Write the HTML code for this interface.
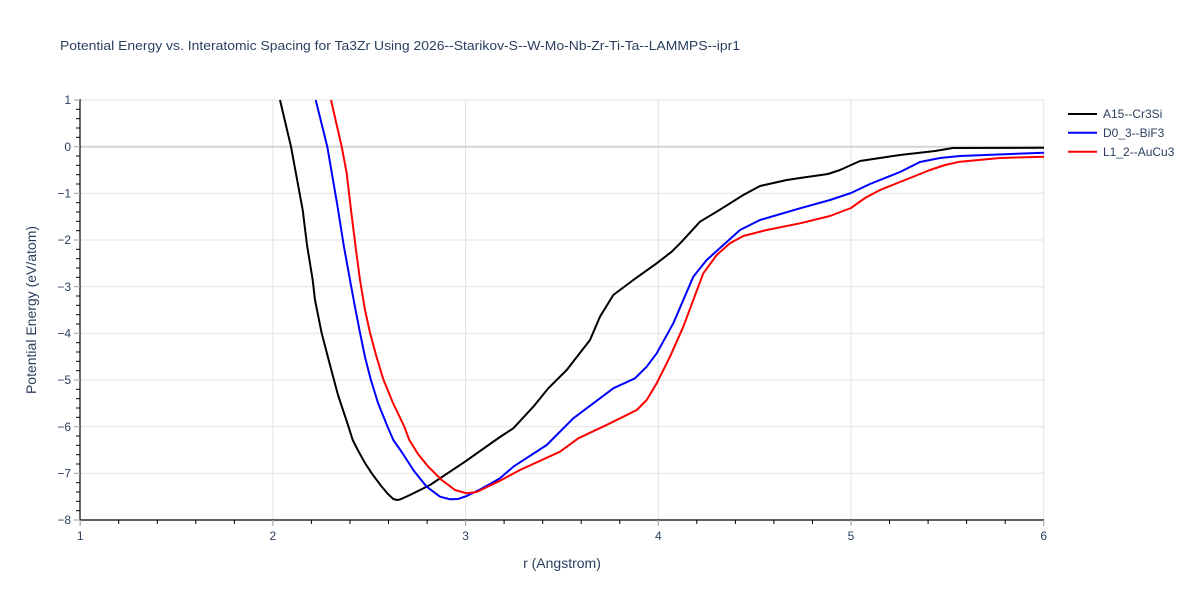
<!DOCTYPE html>
<html><head><meta charset="utf-8"><style>
html,body{margin:0;padding:0;background:#fff;}
svg{display:block;font-family:"Liberation Sans",Arial,sans-serif;}
</style></head><body>
<svg width="1200" height="600" viewBox="0 0 1200 600" xmlns="http://www.w3.org/2000/svg">
<rect width="1200" height="600" fill="#fff"/>
<text x="60" y="50" font-size="13" fill="#2a3f5f" textLength="680" lengthAdjust="spacingAndGlyphs">Potential Energy vs. Interatomic Spacing for Ta3Zr Using 2026--Starikov-S--W-Mo-Nb-Zr-Ti-Ta--LAMMPS--ipr1</text>
<!-- grid -->
<g stroke="#e2e2e2" stroke-width="1">
<line x1="272.9" y1="100" x2="272.9" y2="520"/>
<line x1="465.6" y1="100" x2="465.6" y2="520"/>
<line x1="658.3" y1="100" x2="658.3" y2="520"/>
<line x1="851" y1="100" x2="851" y2="520"/>
<line x1="1043.7" y1="100" x2="1043.7" y2="520"/>
<line x1="80" y1="100" x2="1044" y2="100"/>
<line x1="80" y1="193.3" x2="1044" y2="193.3"/>
<line x1="80" y1="240" x2="1044" y2="240"/>
<line x1="80" y1="286.7" x2="1044" y2="286.7"/>
<line x1="80" y1="333.3" x2="1044" y2="333.3"/>
<line x1="80" y1="380" x2="1044" y2="380"/>
<line x1="80" y1="426.7" x2="1044" y2="426.7"/>
<line x1="80" y1="473.3" x2="1044" y2="473.3"/>
</g>
<line x1="80" y1="146.7" x2="1044" y2="146.7" stroke="#d4d4d4" stroke-width="2"/>
<!-- curves -->
<g fill="none" stroke-width="2" stroke-linejoin="round">
<polyline stroke="#000" points="280,100 291,146.7 302.7,210 307,245 312.7,280 315,300 321.7,333.3 330,365 338,395 348.3,426 352.7,440 358.3,451 365,463 371.7,473.3 381.7,486.7 388,494 393.3,499 397,500 400,499.5 410,495 430,485 465,461.7 490,444 500,437 513.3,428.3 533.3,406.7 548.3,388.3 566.7,370 590,340 600,316.7 613.3,295 633.3,280 656.7,263.3 671.7,251.7 681.7,241.7 700,221.7 716.7,211.7 743.3,195 760,186 786.7,180 800,178 828,174 840,170 860,161 880,158 900,155 935,151 953,148 1044,147.8"/>
<polyline stroke="#0000ff" points="315.7,100 327.3,146.7 337.3,205 344,247 350,280 355,307 360,332.7 365,357 370.7,379.3 378,403 387.3,426 393.3,440 401.7,452 414,471 426.7,486.7 440,496.7 450,499.3 458,499 466.7,496 480,489.5 490,484 500,478.3 513.3,466.7 546.7,445 573.3,418.3 613.3,388.3 635,378.3 646.7,366.7 656.7,353.3 673.3,323.3 693.3,276.7 706.7,260 740,230 760,220 800,208.3 830,200 851,193 870,184 900,172 920,162 940,158 960,156 1044,152.7"/>
<polyline stroke="#ff0000" points="331,100 341.7,146.7 346.7,173.3 351,210 356,250 360,280 365,310 370,332.7 376,355 383.3,379.3 393,403 404,426 409.3,440 418,454 428.3,466.7 441.7,480 455,490 466.7,493.3 476.7,492 500,480.7 520,470 560,451.7 578.3,438.3 610,423.3 636.7,410 646.7,400 656.7,383.3 670,356.7 683.3,326.7 703.3,273.3 716.7,255 730,243.3 743.3,236 766.7,230 800,223.3 830,216 851,208 865,198 880,190 900,182 930,170 945,165 960,161.7 1000,158 1044,156.7"/>
</g>
<!-- axes -->
<line x1="80" y1="99" x2="80" y2="520.5" stroke="#000" stroke-width="1.2"/>
<line x1="79.5" y1="520" x2="1044" y2="520" stroke="#000" stroke-width="1.2"/>
<!-- major ticks -->
<g stroke="#aaa" stroke-width="1.2">
<line x1="80.2" y1="520" x2="80.2" y2="526"/>
<line x1="272.9" y1="520" x2="272.9" y2="526"/>
<line x1="465.6" y1="520" x2="465.6" y2="526"/>
<line x1="658.3" y1="520" x2="658.3" y2="526"/>
<line x1="851" y1="520" x2="851" y2="526"/>
<line x1="1043.7" y1="520" x2="1043.7" y2="526"/>
<line x1="74" y1="100" x2="80" y2="100"/>
<line x1="74" y1="146.7" x2="80" y2="146.7"/>
<line x1="74" y1="193.3" x2="80" y2="193.3"/>
<line x1="74" y1="240" x2="80" y2="240"/>
<line x1="74" y1="286.7" x2="80" y2="286.7"/>
<line x1="74" y1="333.3" x2="80" y2="333.3"/>
<line x1="74" y1="380" x2="80" y2="380"/>
<line x1="74" y1="426.7" x2="80" y2="426.7"/>
<line x1="74" y1="473.3" x2="80" y2="473.3"/>
<line x1="74" y1="520" x2="80" y2="520"/>
</g>
<!-- minor ticks -->
<g stroke="#000" stroke-width="1">
<line x1="118.7" y1="520" x2="118.7" y2="524"/><line x1="157.3" y1="520" x2="157.3" y2="524"/><line x1="195.8" y1="520" x2="195.8" y2="524"/><line x1="234.4" y1="520" x2="234.4" y2="524"/>
<line x1="311.4" y1="520" x2="311.4" y2="524"/><line x1="350" y1="520" x2="350" y2="524"/><line x1="388.5" y1="520" x2="388.5" y2="524"/><line x1="427.1" y1="520" x2="427.1" y2="524"/>
<line x1="504.1" y1="520" x2="504.1" y2="524"/><line x1="542.7" y1="520" x2="542.7" y2="524"/><line x1="581.2" y1="520" x2="581.2" y2="524"/><line x1="619.8" y1="520" x2="619.8" y2="524"/>
<line x1="696.8" y1="520" x2="696.8" y2="524"/><line x1="735.4" y1="520" x2="735.4" y2="524"/><line x1="773.9" y1="520" x2="773.9" y2="524"/><line x1="812.5" y1="520" x2="812.5" y2="524"/>
<line x1="889.5" y1="520" x2="889.5" y2="524"/><line x1="928.1" y1="520" x2="928.1" y2="524"/><line x1="966.6" y1="520" x2="966.6" y2="524"/><line x1="1005.2" y1="520" x2="1005.2" y2="524"/>
</g>
<g stroke="#000" stroke-width="1">
<line x1="76" y1="109.3" x2="80" y2="109.3"/><line x1="76" y1="118.7" x2="80" y2="118.7"/><line x1="76" y1="128" x2="80" y2="128"/><line x1="76" y1="137.3" x2="80" y2="137.3"/>
<line x1="76" y1="156" x2="80" y2="156"/><line x1="76" y1="165.3" x2="80" y2="165.3"/><line x1="76" y1="174.7" x2="80" y2="174.7"/><line x1="76" y1="184" x2="80" y2="184"/>
<line x1="76" y1="202.7" x2="80" y2="202.7"/><line x1="76" y1="212" x2="80" y2="212"/><line x1="76" y1="221.3" x2="80" y2="221.3"/><line x1="76" y1="230.7" x2="80" y2="230.7"/>
<line x1="76" y1="249.3" x2="80" y2="249.3"/><line x1="76" y1="258.7" x2="80" y2="258.7"/><line x1="76" y1="268" x2="80" y2="268"/><line x1="76" y1="277.3" x2="80" y2="277.3"/>
<line x1="76" y1="296" x2="80" y2="296"/><line x1="76" y1="305.3" x2="80" y2="305.3"/><line x1="76" y1="314.7" x2="80" y2="314.7"/><line x1="76" y1="324" x2="80" y2="324"/>
<line x1="76" y1="342.7" x2="80" y2="342.7"/><line x1="76" y1="352" x2="80" y2="352"/><line x1="76" y1="361.3" x2="80" y2="361.3"/><line x1="76" y1="370.7" x2="80" y2="370.7"/>
<line x1="76" y1="389.3" x2="80" y2="389.3"/><line x1="76" y1="398.7" x2="80" y2="398.7"/><line x1="76" y1="408" x2="80" y2="408"/><line x1="76" y1="417.3" x2="80" y2="417.3"/>
<line x1="76" y1="436" x2="80" y2="436"/><line x1="76" y1="445.3" x2="80" y2="445.3"/><line x1="76" y1="454.7" x2="80" y2="454.7"/><line x1="76" y1="464" x2="80" y2="464"/>
<line x1="76" y1="482.7" x2="80" y2="482.7"/><line x1="76" y1="492" x2="80" y2="492"/><line x1="76" y1="501.3" x2="80" y2="501.3"/><line x1="76" y1="510.7" x2="80" y2="510.7"/>
</g>
<!-- tick labels -->
<g font-size="12" fill="#2a3f5f" text-anchor="middle">
<text x="80.2" y="540">1</text>
<text x="272.9" y="540">2</text>
<text x="465.6" y="540">3</text>
<text x="658.3" y="540">4</text>
<text x="851" y="540">5</text>
<text x="1043.7" y="540">6</text>
</g>
<g font-size="12" fill="#2a3f5f" text-anchor="end">
<text x="71" y="104.2">1</text>
<text x="71" y="150.9">0</text>
<text x="71" y="197.5">−1</text>
<text x="71" y="244.2">−2</text>
<text x="71" y="290.9">−3</text>
<text x="71" y="337.5">−4</text>
<text x="71" y="384.2">−5</text>
<text x="71" y="430.9">−6</text>
<text x="71" y="477.5">−7</text>
<text x="71" y="524.2">−8</text>
</g>
<text x="562" y="568" font-size="14" fill="#2a3f5f" text-anchor="middle">r (Angstrom)</text>
<text transform="translate(36,310) rotate(-90)" font-size="14" fill="#2a3f5f" text-anchor="middle">Potential Energy (eV/atom)</text>
<!-- legend -->
<g stroke-width="2">
<line x1="1068" y1="114" x2="1097" y2="114" stroke="#000"/>
<line x1="1068" y1="132.7" x2="1097" y2="132.7" stroke="#0000ff"/>
<line x1="1068" y1="151.7" x2="1097" y2="151.7" stroke="#ff0000"/>
</g>
<g font-size="12" fill="#2a3f5f">
<text x="1103" y="118.2">A15--Cr3Si</text>
<text x="1103" y="136.9">D0_3--BiF3</text>
<text x="1103" y="155.9">L1_2--AuCu3</text>
</g>
</svg>
</body></html>
